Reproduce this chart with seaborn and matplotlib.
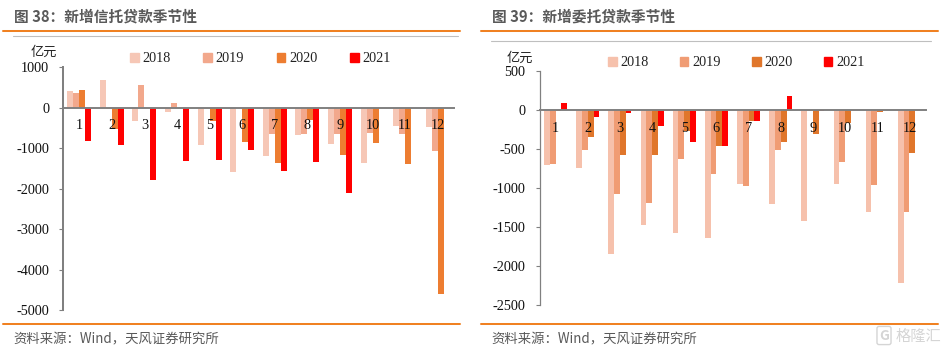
import numpy as np
import pandas as pd
import matplotlib
matplotlib.use('Agg')
import matplotlib.pyplot as plt
import seaborn as sns
from matplotlib.lines import Line2D

sns.set_style('white')
plt.rcParams['axes.unicode_minus'] = False
CJK = ['Noto Sans CJK SC', 'DejaVu Sans']
SERIF = ['Liberation Serif', 'DejaVu Serif']

months = ['1', '2', '3', '4', '5', '6', '7', '8', '9', '10', '11', '12']
years = ['2018', '2019', '2020', '2021']

# 新增信托贷款
trust_2018 = [400, 690, -330, -110, -920, -1590, -1190, -680, -900, -1370, -460, -480]
trust_2019 = [350, -40, 550, 120, -40, 0, -660, -650, -660, -630, -660, -1070]
trust_2020 = [420, -530, 0, 0, -330, -850, -1370, -310, -1170, -870, -1390, -4610]
trust_2021 = [-830, -920, -1800, -1330, -1290, -1050, -1565, -1340, -2120, np.nan, np.nan, np.nan]

# 新增委托贷款
entrust_2018 = [-703, -745, -1848, -1480, -1579, -1643, -951, -1207, -1425, -951, -1314, -2215]
entrust_2019 = [-690, -512, -1079, -1199, -627, -818, -977, -512, -10, -665, -964, -1314]
entrust_2020 = [-10, -352, -580, -576, -271, -470, -144, -411, -309, -174, -25, -551]
entrust_2021 = [89, -89, -42, -203, -407, -466, -144, 174, -20, np.nan, np.nan, np.nan]

W, H = 949, 351
fig = plt.figure(figsize=(W / 100, H / 100), dpi=100)


def make_df(series):
    rows = []
    for year, vals in zip(years, series):
        for m, v in zip(months, vals):
            rows.append({'month': m, 'year': year, 'value': v})
    return pd.DataFrame(rows)


def hline(x0, x1, y, color, lw):
    fig.add_artist(Line2D([x0 / W, x1 / W], [1 - y / H, 1 - y / H], color=color, lw=lw))


def panel(series, box, ylim, yticks, colors, spine_lw, bar_w, title, title_x, leg_x, leg_y, unit_x, unit_y, col_sp):
    l, t, r, b = box
    ax = fig.add_axes([l / W, 1 - b / H, (r - l) / W, (b - t) / H])
    sns.barplot(data=make_df(series), x='month', y='value', hue='year', order=months, hue_order=years,
                palette=colors, width=bar_w, saturation=1, gap=0, errorbar=None, legend=False,
                linewidth=0, ax=ax)
    ax.set_xlim(-0.5, 11.5)
    ax.set_ylim(*ylim)
    ax.set_yticks(yticks)
    ax.set_xlabel('')
    ax.set_ylabel('')
    ax.patch.set_alpha(0)
    ax.set_axisbelow(False)  # 月份标签压在柱子上面

    for s in ['top', 'right']:
        ax.spines[s].set_visible(False)
    ax.spines['left'].set_color('#808080')
    ax.spines['left'].set_linewidth(spine_lw)
    ax.spines['bottom'].set_position(('data', 0))
    ax.spines['bottom'].set_color('#808080')
    ax.spines['bottom'].set_linewidth(1.4)
    ax.tick_params(axis='x', length=0, pad=8.5, labelsize=10.3, labelfontfamily=SERIF, colors='#111111')
    ax.tick_params(axis='y', left=True, length=3, width=0.8, color='#808080', pad=7, labelsize=10.3,
                   labelfontfamily=SERIF, labelcolor='#111111')

    # 图例
    handles = [plt.Rectangle((0, 0), 1, 1, color=c) for c in colors]
    fig.legend(handles, years, loc='center left', bbox_to_anchor=(leg_x / W, 1 - leg_y / H), ncol=4,
               frameon=False, handlelength=0.6, handleheight=0.6, handletextpad=0.25, columnspacing=col_sp,
               borderpad=0, borderaxespad=0, prop={'family': SERIF, 'size': 10.3}, labelcolor='#222222')

    fig.text(unit_x / W, 1 - unit_y / H, '亿元', family=CJK, fontsize=9.5, color='#222222', ha='left', va='center')
    fig.text(title_x / W, 1 - 16 / H, title, family=CJK, fontsize=10.6, fontweight='bold', color='#595959',
             ha='left', va='center')
    return ax


panel([trust_2018, trust_2019, trust_2020, trust_2021], (63, 67, 454, 310), (-5000, 1000),
      [1000, 0, -1000, -2000, -3000, -4000, -5000],
      ['#F6C7B6', '#F2A88C', '#ED7D31', '#FF0000'], 1.45, 0.737,
      '图 38：新增信托贷款季节性', 14, 130, 59, 31, 52, 2.3)
panel([trust for trust in [entrust_2018, entrust_2019, entrust_2020, entrust_2021]], (539.5, 70.7, 925.5, 305), (-2500, 500),
      [500, 0, -500, -1000, -1500, -2000, -2500],
      ['#F6C1AC', '#F09C74', '#E0762B', '#FF0000'], 0.9, 0.72,
      '图 39：新增委托贷款季节性', 492, 608, 63, 507, 58, 2.2)

# 分隔线
hline(3, 460, 31, '#F08122', 1.45)
hline(13, 458, 36, '#BFBFBF', 0.8)
hline(481, 938, 31, '#F08122', 1.45)
hline(491, 931, 41, '#BFBFBF', 0.8)
hline(3, 460, 324, '#F08122', 1.45)
hline(481, 938, 324, '#F08122', 1.45)

fig.text(13 / W, 1 - 339 / H, '资料来源：Wind，天风证券研究所', family=CJK, fontsize=9.6, color='#595959', va='center')
fig.text(491 / W, 1 - 339 / H, '资料来源：Wind，天风证券研究所', family=CJK, fontsize=9.6, color='#595959', va='center')

# 水印
fig.text(884 / W, 1 - 335.5 / H, 'G', family=CJK, fontsize=10, fontweight='bold', color='#D5D5D5', ha='center', va='center',
         bbox=dict(boxstyle='round,pad=0.15', fc='none', ec='#D5D5D5', lw=1))
fig.text(896 / W, 1 - 336 / H, '格隆汇', family=CJK, fontsize=11, color='#D5D5D5', ha='left', va='center')

fig.savefig('out.png', dpi=100)
plt.close(fig)
